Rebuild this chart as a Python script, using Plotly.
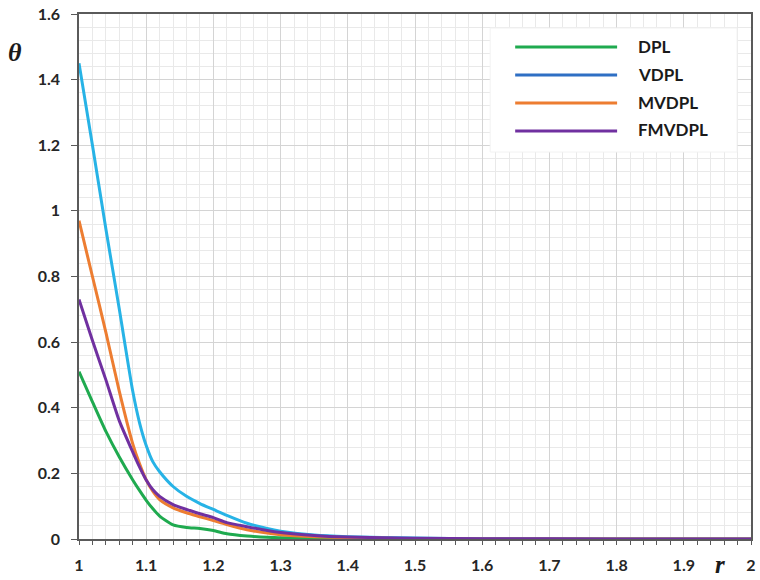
import plotly.graph_objects as go

# Radial position r
r = [1.00, 1.02, 1.04, 1.06, 1.08, 1.09, 1.10, 1.11, 1.12, 1.14, 1.16, 1.18, 1.20,
     1.22, 1.25, 1.28, 1.30, 1.35, 1.40, 1.50, 1.60, 1.80, 2.00]

# Temperature theta for each model
theta_dpl = [0.51, 0.418, 0.328, 0.25, 0.18, 0.148, 0.118, 0.092, 0.07, 0.043, 0.035,
             0.032, 0.026, 0.016, 0.009, 0.005, 0.004, 0.002, 0.001, 0.0, 0.0, 0.0, 0.0]
theta_vdpl = [1.45, 1.20, 0.945, 0.70, 0.45, 0.355, 0.285, 0.235, 0.205, 0.16, 0.13,
              0.108, 0.09, 0.072, 0.048, 0.032, 0.024, 0.012, 0.007, 0.003, 0.001, 0.0, 0.0]
theta_mvdpl = [0.97, 0.80, 0.63, 0.45, 0.29, 0.23, 0.18, 0.145, 0.12, 0.095, 0.08,
               0.068, 0.056, 0.044, 0.028, 0.018, 0.013, 0.007, 0.004, 0.001, 0.0, 0.0, 0.0]
theta_fmvdpl = [0.73, 0.605, 0.485, 0.36, 0.265, 0.22, 0.18, 0.15, 0.13, 0.105, 0.09,
                0.077, 0.065, 0.05, 0.0375, 0.026, 0.02, 0.011, 0.006, 0.002, 0.001, 0.0, 0.0]

series_names = ["DPL", "VDPL", "MVDPL", "FMVDPL"]
series_values = [theta_dpl, theta_vdpl, theta_mvdpl, theta_fmvdpl]
line_colors = ["#1faa4f", "#27b3e6", "#ed7d31", "#7030a0"]
legend_colors = ["#1faa4f", "#2e6fc4", "#ed7d31", "#7030a0"]

x_tickvals = [1.0, 1.1, 1.2, 1.3, 1.4, 1.5, 1.6, 1.7, 1.8, 1.9, 2.0]
x_ticktext = ["1", "1.1", "1.2", "1.3", "1.4", "1.5", "1.6", "1.7", "1.8", "1.9", "2"]
y_tickvals = [0, 0.2, 0.4, 0.6, 0.8, 1.0, 1.2, 1.4, 1.6]
y_ticktext = ["0", "0.2", "0.4", "0.6", "0.8", "1", "1.2", "1.4", "1.6"]

W, H = 760, 580
L, R, T, B = 78.5, 751, 14, 539


def px_x(px):
    return (px - L) / (R - L)


def px_y(py):
    return (B - py) / (B - T)


fig = go.Figure()
for name, vals, col in zip(series_names, series_values, line_colors):
    fig.add_trace(go.Scatter(
        x=r, y=vals, mode="lines", name=name, showlegend=False,
        line=dict(color=col, width=3, shape="spline", smoothing=0.6),
    ))

tick_font = dict(family="Lato", size=16, color="#262626", weight="bold")
grid_major = "#d4d4d4"
grid_minor = "#e9e9e9"

fig.update_xaxes(
    range=[1, 2], tickvals=x_tickvals, ticktext=x_ticktext, automargin=False,
    showline=True, linecolor="#5a5a5a", linewidth=1.5, mirror=True,
    ticks="outside", ticklen=4, tickcolor="#5a5a5a", tickwidth=1,
    ticklabelstandoff=7,
    showgrid=True, gridcolor=grid_major, gridwidth=1,
    minor=dict(dtick=0.02, showgrid=True, gridcolor=grid_minor, gridwidth=1,
               ticks="outside", ticklen=4, tickcolor="#5a5a5a"),
    tickfont=tick_font, zeroline=False, layer="below traces",
)
fig.update_yaxes(
    range=[0, 1.6], tickvals=y_tickvals, ticktext=y_ticktext, automargin=False,
    showline=True, linecolor="#5a5a5a", linewidth=1.5, mirror=True,
    ticks="outside", ticklen=6, tickcolor="#5a5a5a", tickwidth=1,
    ticklabelstandoff=8,
    showgrid=True, gridcolor=grid_major, gridwidth=1,
    minor=dict(dtick=0.04, showgrid=True, gridcolor=grid_minor, gridwidth=1),
    tickfont=tick_font, zeroline=False, layer="below traces",
)

# Legend box with long line samples
shapes = [dict(type="rect", xref="paper", yref="paper",
               x0=px_x(490), x1=px_x(737), y0=px_y(152), y1=px_y(28),
               fillcolor="white", line=dict(color="#f2f2f2", width=1), layer="above")]
annotations = []
row_y = [47, 75, 103, 131]
for name, col, yy in zip(series_names, legend_colors, row_y):
    shapes.append(dict(type="line", xref="paper", yref="paper",
                       x0=px_x(515), x1=px_x(617), y0=px_y(yy), y1=px_y(yy),
                       line=dict(color=col, width=3)))
    annotations.append(dict(xref="paper", yref="paper", x=px_x(636), y=px_y(yy - 1),
                            text=name, showarrow=False, xanchor="left", yanchor="middle",
                            font=dict(family="Lato", size=17, color="#1a1a1a", weight="bold")))

# Axis symbols
annotations.append(dict(xref="paper", yref="paper", x=px_x(14), y=px_y(52),
                        xanchor="center", yanchor="middle",
                        text="<b><i>θ</i></b>", showarrow=False,
                        font=dict(family="Liberation Serif", size=26, color="#1a1a1a")))
annotations.append(dict(xref="paper", yref="paper", x=px_x(720), y=px_y(564),
                        xanchor="center", yanchor="middle", borderpad=0,
                        text="<b><i>r</i></b>", showarrow=False,
                        font=dict(family="Liberation Serif", size=25, color="#1a1a1a")))

fig.update_layout(
    width=W, height=H,
    margin=dict(l=L, r=W - R, t=T, b=H - B),
    paper_bgcolor="white", plot_bgcolor="white",
    showlegend=False, shapes=shapes, annotations=annotations,
)

fig.write_html("out.html")
